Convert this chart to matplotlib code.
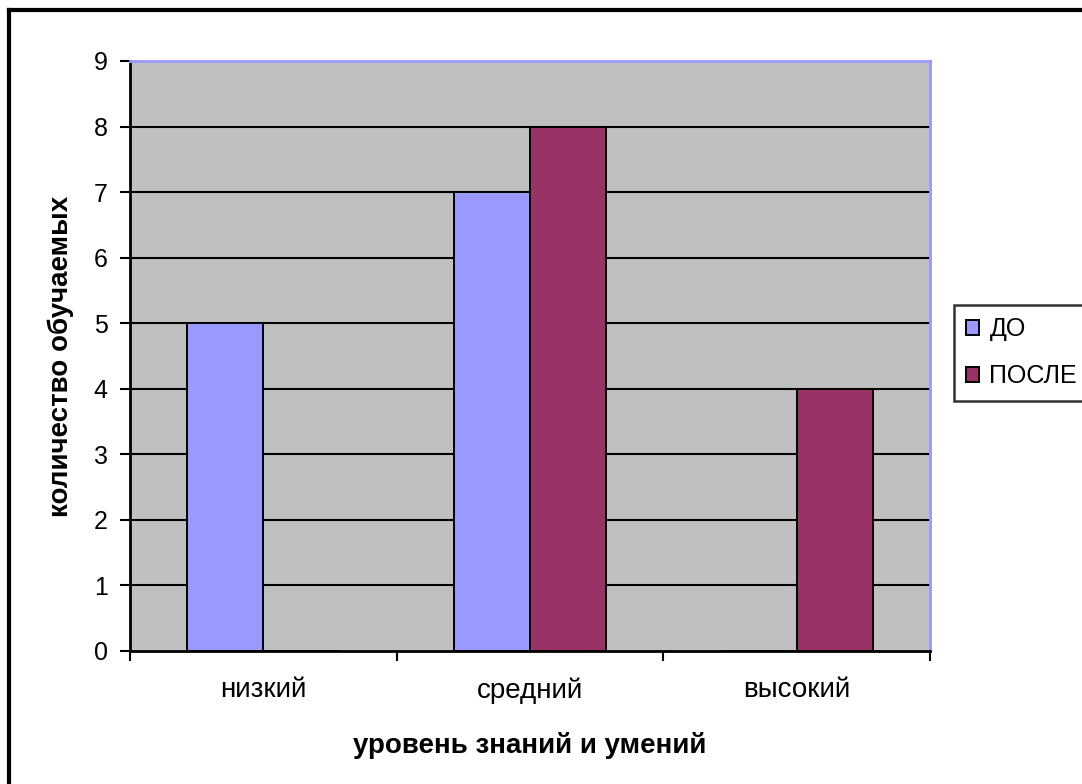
import matplotlib
matplotlib.use("Agg")
import matplotlib.pyplot as plt
import numpy as np
from matplotlib.lines import Line2D
from matplotlib.patches import Rectangle

plt.rcParams['font.family'] = ['Liberation Sans', 'DejaVu Sans']

categories = ["низкий", "средний", "высокий"]
series_names = ["ДО", "ПОСЛЕ"]
do_values = [5, 7, 0]
posle_values = [0, 8, 4]
colors = ["#9999FF", "#993366"]

W, H = 1082, 784
fig = plt.figure(figsize=(W / 100, H / 100), dpi=100)
ax = fig.add_axes([130 / W, 1 - 651 / H, 800 / W, 590 / H])
ax.set_facecolor("#C0C0C0")

x = np.arange(len(categories))
bw = 0.285
for vals, off, c, name in [(do_values, -bw / 2, colors[0], series_names[0]),
                           (posle_values, bw / 2, colors[1], series_names[1])]:
    ax.bar(x + off, vals, width=bw, color=c, edgecolor="black", linewidth=1.4,
           zorder=3, label=name)

ax.set_xlim(-0.5, 2.5)
ax.set_ylim(0, 9)
ax.set_yticks(range(0, 10))
ax.set_xticks([-0.5, 0.5, 1.5, 2.5])
ax.set_xticklabels([])
ax.set_xticks(x, minor=True)
ax.set_xticklabels(categories, minor=True)
ax.tick_params(axis="x", which="minor", length=0, pad=19, labelsize=20)
ax.tick_params(axis="x", which="major", direction="out", length=7, width=1.5)
ax.tick_params(axis="y", direction="out", length=7, width=1.5, labelsize=18, pad=9)

for yv in range(1, 9):
    ax.axhline(yv, color="black", linewidth=1.5, zorder=1)

for s in ["left", "bottom"]:
    ax.spines[s].set_color("black")
    ax.spines[s].set_linewidth(2)
for s in ["top", "right"]:
    ax.spines[s].set_color("#9999FF")
    ax.spines[s].set_linewidth(2)
for sp in ax.spines.values():
    sp.set_zorder(4)

ax.set_ylabel("количество обучаемых", fontsize=20, fontweight="bold")
ax.yaxis.set_label_coords(-0.07, 0.5)
ax.set_xlabel("уровень знаний и умений", fontsize=20, fontweight="bold")
ax.xaxis.set_label_coords(0.5, -0.138)

handles = [Rectangle((0, 0), 1, 1, facecolor=c, edgecolor="black", linewidth=1.4) for c in colors]
leg = fig.legend(handles, series_names, loc="upper left",
                 bbox_to_anchor=(954 / W, 1 - 305 / H), fontsize=18,
                 frameon=True, fancybox=False, edgecolor="black",
                 handlelength=0.52, handleheight=0.52, handletextpad=0.4,
                 borderpad=0.5, labelspacing=0.92, borderaxespad=0)
leg.get_frame().set_linewidth(1.8)

# outer chart border (top and left visible)
fig.add_artist(Line2D([9 / W, 9 / W], [0, 1 - 10 / H], color="black", linewidth=3,
                      transform=fig.transFigure))
fig.add_artist(Line2D([9 / W, 1], [1 - 10 / H, 1 - 10 / H], color="black", linewidth=3,
                      transform=fig.transFigure))

fig.savefig("out.png", dpi=100)
